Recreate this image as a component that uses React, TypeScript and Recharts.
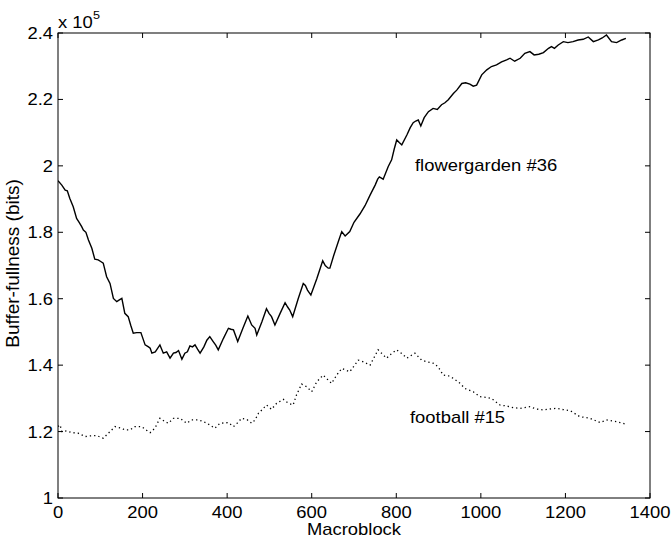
import { Customized, Line, LineChart, XAxis, YAxis } from 'recharts'

document.body.style.margin = '0'

// buffer fullness per macroblock, in units of 1e5 bits
const flowerMb = [
  0, 9, 17, 22, 28, 36, 44, 50, 56, 60, 66, 72, 80, 87, 95, 101, 107, 115, 123, 131, 139, 146, 151, 158, 166,
  172, 178, 186, 196, 206, 214, 218, 222, 230, 241, 249, 257, 265, 273, 279, 285, 293, 300, 306, 312, 318, 324,
  330, 336, 345, 352, 359, 367, 373, 379, 391, 403, 409, 415, 425, 437, 449, 458, 466, 470, 482, 493, 499, 505,
  513, 525, 537, 543, 548, 555, 568, 580, 585, 590, 598, 612, 626, 632, 639, 643, 652, 663, 671, 679, 690, 700,
  714, 726, 738, 750, 756, 760, 769, 781, 789, 795, 801, 807, 813, 825, 833, 840, 846, 852, 858, 866, 876, 887,
  897, 907, 915, 923, 935, 943, 955, 964, 974, 982, 990, 1002, 1014, 1025, 1037, 1049, 1061, 1069, 1080, 1093,
  1104, 1116, 1126, 1137, 1148, 1160, 1167, 1174, 1183, 1195, 1206, 1218, 1230, 1242, 1254, 1266, 1278, 1287,
  1297, 1309, 1321, 1333, 1343,
]
const flowerBits = [
  1.955, 1.942, 1.927, 1.925, 1.902, 1.877, 1.842, 1.83, 1.817, 1.807, 1.8, 1.777, 1.752, 1.719, 1.717, 1.712,
  1.707, 1.666, 1.646, 1.601, 1.591, 1.597, 1.601, 1.556, 1.546, 1.52, 1.496, 1.498, 1.498, 1.461, 1.455, 1.451,
  1.436, 1.44, 1.461, 1.436, 1.44, 1.421, 1.436, 1.438, 1.444, 1.418, 1.436, 1.44, 1.458, 1.455, 1.461, 1.448,
  1.436, 1.455, 1.475, 1.486, 1.471, 1.46, 1.446, 1.48, 1.511, 1.508, 1.506, 1.471, 1.51, 1.548, 1.521, 1.511,
  1.491, 1.53, 1.57, 1.556, 1.546, 1.521, 1.555, 1.588, 1.575, 1.566, 1.546, 1.6, 1.646, 1.64, 1.626, 1.611,
  1.66, 1.714, 1.7, 1.692, 1.692, 1.73, 1.772, 1.802, 1.789, 1.802, 1.83, 1.855, 1.88, 1.912, 1.942, 1.96,
  1.967, 1.96, 1.998, 2.018, 2.05, 2.078, 2.07, 2.063, 2.093, 2.115, 2.13, 2.135, 2.138, 2.12, 2.145, 2.163,
  2.173, 2.17, 2.184, 2.19, 2.199, 2.218, 2.228, 2.248, 2.25, 2.246, 2.24, 2.243, 2.274, 2.289, 2.299, 2.304,
  2.313, 2.319, 2.324, 2.315, 2.324, 2.339, 2.344, 2.334, 2.336, 2.341, 2.354, 2.359, 2.354, 2.364, 2.374,
  2.371, 2.374, 2.379, 2.381, 2.388, 2.374, 2.379, 2.385, 2.394, 2.374, 2.371, 2.379, 2.384,
]

const footballMb = [
  0, 5, 9, 20, 32, 48, 64, 76, 91, 107, 119, 135, 151, 158, 170, 182, 198, 208, 218, 229, 241, 253, 261, 273,
  289, 304, 316, 332, 344, 359, 371, 383, 403, 415, 426, 434, 446, 458, 466, 474, 482, 493, 505, 517, 533, 545,
  556, 564, 576, 588, 600, 612, 627, 635, 647, 659, 671, 690, 710, 722, 738, 757, 777, 789, 801, 813, 825, 844,
  860, 873, 887, 899, 911, 923, 935, 951, 962, 982, 998, 1012, 1025, 1045, 1061, 1077, 1093, 1116, 1131, 1148,
  1163, 1179, 1195, 1211, 1234, 1258, 1282, 1297, 1321, 1341,
]
const footballBits = [
  1.215, 1.22, 1.2, 1.202, 1.197, 1.195, 1.185, 1.187, 1.188, 1.18, 1.195, 1.215, 1.21, 1.205, 1.205, 1.215,
  1.215, 1.205, 1.197, 1.21, 1.24, 1.23, 1.225, 1.24, 1.24, 1.225, 1.235, 1.235, 1.23, 1.22, 1.21, 1.225,
  1.227, 1.215, 1.228, 1.24, 1.237, 1.225, 1.235, 1.255, 1.265, 1.28, 1.267, 1.285, 1.297, 1.285, 1.28, 1.31,
  1.343, 1.335, 1.32, 1.35, 1.37, 1.36, 1.345, 1.37, 1.39, 1.38, 1.415, 1.41, 1.4, 1.446, 1.421, 1.435, 1.446,
  1.435, 1.421, 1.436, 1.415, 1.41, 1.406, 1.395, 1.37, 1.368, 1.36, 1.345, 1.33, 1.32, 1.305, 1.303, 1.3, 1.28,
  1.277, 1.272, 1.27, 1.275, 1.268, 1.265, 1.268, 1.27, 1.266, 1.263, 1.245, 1.24, 1.227, 1.235, 1.23, 1.223,
]

const xTicks = [0, 200, 400, 600, 800, 1000, 1200, 1400]
const yTicks = [1, 1.2, 1.4, 1.6, 1.8, 2, 2.2, 2.4]
const X_MIN = 0
const X_MAX = 1400
const Y_MIN = 1
const Y_MAX = 2.4

const flowerData = flowerMb.map((mb, i) => ({ mb, bits: flowerBits[i] }))
const footballData = footballMb.map((mb, i) => ({ mb, bits: footballBits[i] }))

const W = 672
const H = 541
const LEFT = 58
const RIGHT = 650
const TOP = 33
const BOTTOM = 498
const TICK = 5
const FONT = 'Liberation Sans, Arial, Helvetica, sans-serif'
const SX = 1.15

const px = (v: number) => LEFT + ((v - X_MIN) / (X_MAX - X_MIN)) * (RIGHT - LEFT)
const py = (v: number) => BOTTOM - ((v - Y_MIN) / (Y_MAX - Y_MIN)) * (BOTTOM - TOP)

const Txt = ({ x, y, anchor = 'middle', children }: any) => (
  <text
    transform={`translate(${x},${y}) scale(${SX},1)`}
    textAnchor={anchor}
    fontFamily={FONT}
    fontSize={16}
    fill='#000'
  >
    {children}
  </text>
)

const BottomLabel = ({ x, payload }: any) => <Txt x={x} y={518}>{payload.value}</Txt>

const LeftLabel = ({ y, payload }: any) => (
  <Txt x={53} y={y + 6} anchor='end'>{payload.value}</Txt>
)

// box around the plot with inward tick marks on all four sides
const Frame = () => (
  <g stroke='#000' strokeWidth={1} fill='none'>
    <rect x={LEFT} y={TOP} width={RIGHT - LEFT} height={BOTTOM - TOP} />
    {xTicks.map((t) => (
      <g key={`x${t}`}>
        <line x1={px(t)} x2={px(t)} y1={BOTTOM} y2={BOTTOM - TICK} />
        <line x1={px(t)} x2={px(t)} y1={TOP} y2={TOP + TICK} />
      </g>
    ))}
    {yTicks.map((t) => (
      <g key={`y${t}`}>
        <line x1={LEFT} x2={LEFT + TICK} y1={py(t)} y2={py(t)} />
        <line x1={RIGHT} x2={RIGHT - TICK} y1={py(t)} y2={py(t)} />
      </g>
    ))}
  </g>
)

const Annotations = () => (
  <g>
    <Frame />
    <Txt x={LEFT} y={28} anchor='start'>x 10</Txt>
    <text
      transform={`translate(93,19) scale(${SX},1)`}
      fontFamily={FONT}
      fontSize={11}
      fill='#000'
    >
      5
    </text>
    <Txt x={(LEFT + RIGHT) / 2} y={535}>Macroblock</Txt>
    <text
      transform={`translate(19,${(TOP + BOTTOM) / 2 - 2}) rotate(-90)`}
      textAnchor='middle'
      fontFamily={FONT}
      fontSize={19}
      fill='#000'
    >
      Buffer-fullness (bits)
    </text>
    <Txt x={415} y={171} anchor='start'>flowergarden #36</Txt>
    <Txt x={410} y={423} anchor='start'>football #15</Txt>
  </g>
)

export default function App() {
  return (
    <div style={{ width: W, height: H, background: '#fff' }}>
      <LineChart width={W} height={H} margin={{ top: TOP, right: W - RIGHT, bottom: 0, left: 0 }}>
        <XAxis
          type='number'
          dataKey='mb'
          domain={[X_MIN, X_MAX]}
          ticks={xTicks}
          height={H - BOTTOM}
          axisLine={false}
          tickLine={false}
          tick={<BottomLabel />}
          allowDataOverflow
        />
        <YAxis
          type='number'
          dataKey='bits'
          domain={[Y_MIN, Y_MAX]}
          ticks={yTicks}
          width={LEFT}
          axisLine={false}
          tickLine={false}
          tick={<LeftLabel />}
          allowDataOverflow
        />
        <Line
          data={flowerData}
          dataKey='bits'
          type='linear'
          stroke='#000'
          strokeWidth={1.4}
          dot={false}
          isAnimationActive={false}
        />
        <Line
          data={footballData}
          dataKey='bits'
          type='linear'
          stroke='#000'
          strokeWidth={1.3}
          strokeDasharray='1.3 3'
          dot={false}
          isAnimationActive={false}
        />
        <Customized component={Annotations} />
      </LineChart>
    </div>
  )
}
